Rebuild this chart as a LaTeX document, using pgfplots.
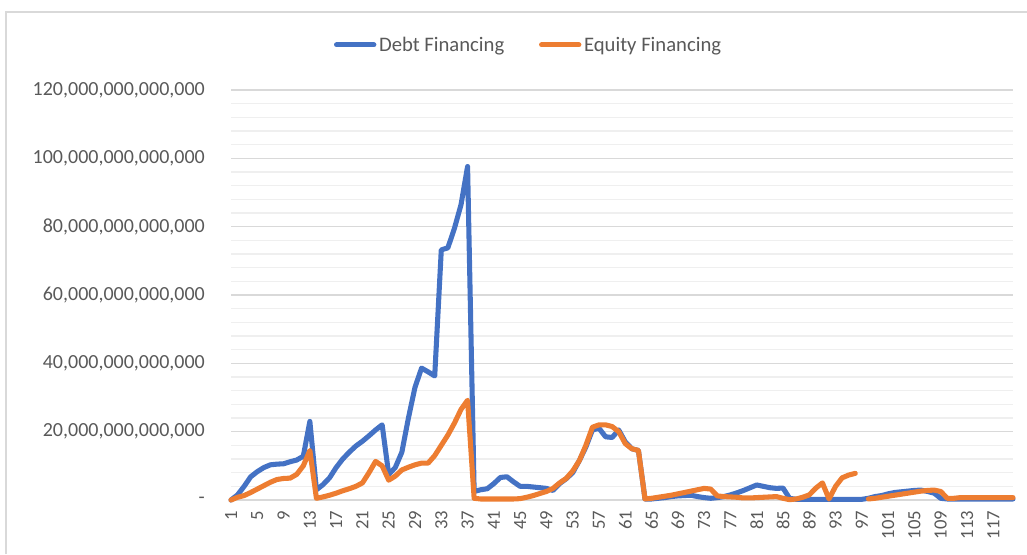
\documentclass[border=0pt]{standalone}
\usepackage{pgfplots}
\pgfplotsset{compat=1.18}
\usepackage{pgfplotstable}
\usepackage{fontspec}
\setmainfont{Carlito}
\definecolor{debt}{HTML}{4472C4}
\definecolor{equity}{HTML}{ED7D31}
\definecolor{tickgray}{HTML}{595959}
\definecolor{majgrid}{HTML}{D9D9D9}
\definecolor{mingrid}{HTML}{EFEFEF}

\pgfplotstableread{
x debt equity
1 0 0
2 1.5 0.8
3 4 1.3
4 6.8 2.2
5 8.3 3.2
6 9.5 4.2
7 10.3 5.2
8 10.5 6
9 10.6 6.3
10 11.2 6.4
11 11.7 7.5
12 12.8 10
13 23 14.5
14 3 0.5
15 4.5 0.9
16 6.5 1.4
17 9.5 2
18 12 2.7
19 14 3.3
20 15.8 4
21 17.2 5
22 18.8 8
23 20.5 11.3
24 22 10
25 7.5 5.8
26 9.5 7
27 14 8.8
28 24 9.6
29 33 10.3
30 38.6 10.8
31 37.5 10.8
32 36.3 13
33 73.2 16
34 73.8 19
35 79.5 22.5
36 86.4 26.5
37 97.6 29.2
38 2.5 0.5
39 3 0.3
40 3.3 0.3
41 4.8 0.3
42 6.6 0.3
43 6.8 0.3
44 5.3 0.3
45 4 0.4
46 4 0.8
47 3.8 1.3
48 3.6 1.9
49 3.4 2.5
50 2.8 3.4
51 4.8 5
52 6.2 6.3
53 8 8.5
54 11.5 11.5
55 15.5 16
56 20.5 21.3
57 21 22
58 18.5 22
59 18.3 21.5
60 20.5 20
61 17 16.5
62 15 15
63 14.5 14.5
64 0.3 0.3
65 0.3 0.5
66 0.5 0.8
67 0.7 1.1
68 1 1.4
69 1.2 1.8
70 1.3 2.2
71 1.4 2.6
72 1 3
73 0.7 3.4
74 0.5 3.2
75 0.7 1.2
76 1 1
77 1.5 0.9
78 2.1 0.8
79 2.8 0.6
80 3.6 0.6
81 4.4 0.7
82 4 0.8
83 3.6 0.9
84 3.4 1
85 3.5 0.5
86 0.5 0.1
87 0.2 0.3
88 0.2 0.8
89 0.2 1.5
90 0.2 3.5
91 0.2 5
92 0.2 0.3
93 0.2 4
94 0.2 6.5
95 0.2 7.3
96 0.2 7.8
97 0.2 nan
98 0.5 0.3
99 1 0.5
100 1.3 0.8
101 1.8 1.1
102 2.2 1.4
103 2.4 1.7
104 2.6 2
105 2.8 2.3
106 2.9 2.6
107 2.5 2.8
108 2 2.9
109 0.5 2.5
110 0.3 0.5
111 0.3 0.5
112 0.3 0.7
113 0.3 0.7
114 0.3 0.7
115 0.3 0.7
116 0.3 0.7
117 0.3 0.7
118 0.3 0.7
119 0.3 0.7
120 0.3 0.7
}\data

\begin{document}
\begin{tikzpicture}[x=0.75pt,y=0.75pt]
\path[use as bounding box] (0,0) rectangle (1027,554);
\draw[majgrid, line width=1pt] (6,0) -- (6,542) -- (1027,542);
\begin{axis}[
  at={(173.25pt,40.5pt)}, anchor=south west,
  scale only axis, width=586.5pt, height=307.5pt,
  xmin=1, xmax=120, ymin=0, ymax=120,
  axis line style={draw=none},
  major tick length=0pt, minor tick length=0pt,
  ytick={0,20,...,120},
  yticklabels={{-},{20,000,000,000,000},{40,000,000,000,000},{60,000,000,000,000},{80,000,000,000,000},{100,000,000,000,000},{120,000,000,000,000}},
  minor ytick={4,8,...,116},
  ymajorgrids, yminorgrids,
  major grid style={majgrid, line width=0.9pt},
  minor grid style={mingrid, line width=0.9pt},
  yticklabel style={font=\fontsize{15}{18}\selectfont, text=tickgray, anchor=east, inner sep=0pt, xshift=-19.5pt},
  xtick={1,5,...,117},
  /pgf/number format/assume math mode=true,
  xticklabel style={font=\fontsize{14}{17}\selectfont, text=tickgray, yshift=-8pt, rotate=90, anchor=east, inner sep=0pt},
  unbounded coords=jump,
  clip=false,
  legend style={at={(0.381,1.11)}, anchor=center, draw=none, fill=none,
    font=\fontsize{15.5}{18}\selectfont, text=tickgray, legend columns=2,
    /tikz/every even column/.append style={column sep=24pt}},
  legend image code/.code={\draw[#1, line width=3.8pt, line cap=round] (0pt,0pt) -- (28pt,0pt);},
]
\addplot[debt, line width=3.8pt, line join=round, line cap=round] table[x=x, y=debt] {\data};
\addlegendentry{Debt Financing}
\addplot[equity, line width=3.8pt, line join=round, line cap=round] table[x=x, y=equity] {\data};
\addlegendentry{Equity Financing}
\end{axis}
\end{tikzpicture}
\end{document}
